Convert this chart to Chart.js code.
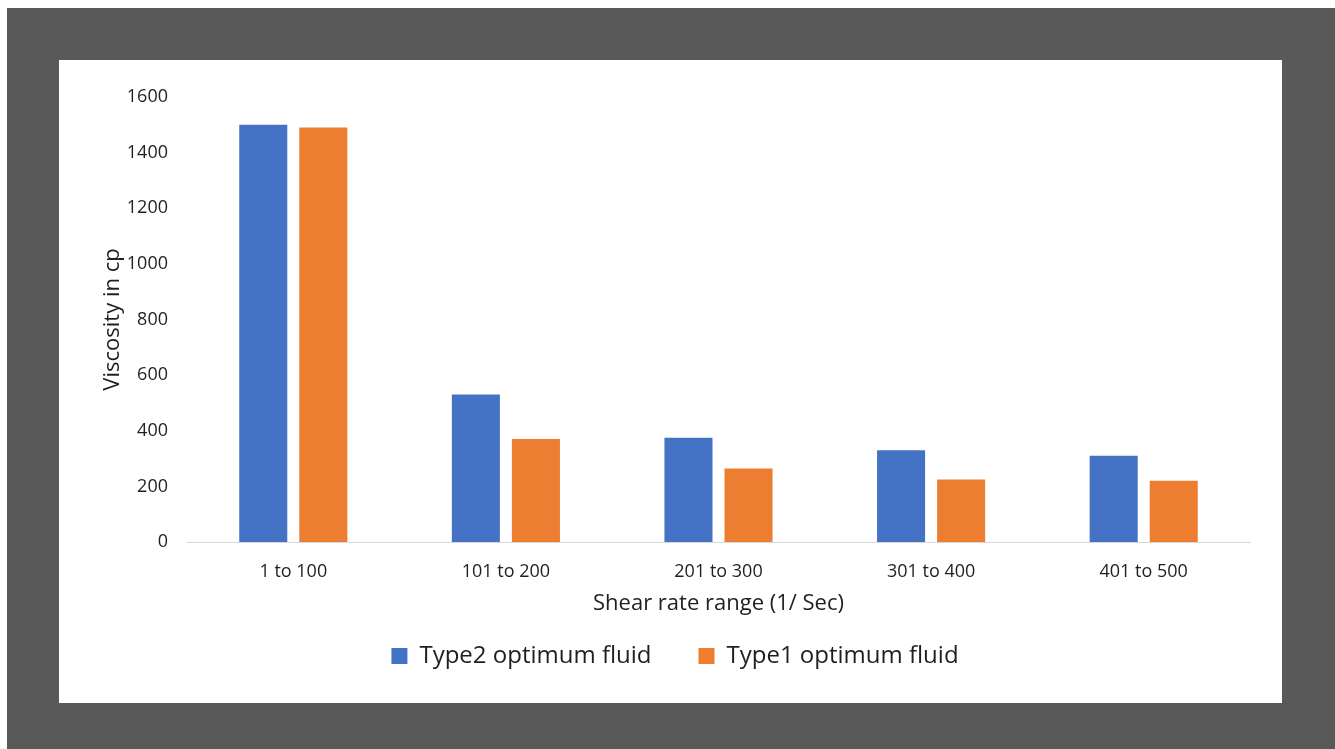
<!DOCTYPE html>
<html>
<head>
<meta charset="utf-8">
<script src="https://cdn.jsdelivr.net/npm/chart.js@4.4.1/dist/chart.umd.min.js"></script>
<style>
  html, body { margin: 0; padding: 0; background: #ffffff; }
  body { width: 1335px; height: 749px; position: relative; overflow: hidden; }
  #frame { position: absolute; left: 7px; top: 8px; right: 0; bottom: 0; background: #595959; }
  #panel { position: absolute; left: 59px; top: 60px; width: 1223px; height: 643px; background: #ffffff; }
</style>
</head>
<body>
<div id="frame"></div>
<div id="panel"><canvas id="chart" width="1223" height="643"></canvas></div>
<script>
// Shear rate ranges (1/s) and measured viscosities (cp)
const categories = ["1 to 100", "101 to 200", "201 to 300", "301 to 400", "401 to 500"];
const type2Values = [1500, 530, 375, 330, 310];
const type1Values = [1490, 370, 264, 225, 220];
const seriesNames = ["Type2 optimum fluid", "Type1 optimum fluid"];
const yTicks = [0, 200, 400, 600, 800, 1000, 1200, 1400, 1600];

const FONT = "'Open Sans', 'Noto Sans', sans-serif";
const TEXT = "#1f1f1f";

new Chart(document.getElementById("chart"), {
  type: "bar",
  data: {
    labels: categories,
    datasets: [
      { label: seriesNames[0], data: type2Values, backgroundColor: "#4472C4",
        categoryPercentage: 0.565, barPercentage: 0.8 },
      { label: seriesNames[1], data: type1Values, backgroundColor: "#ED7D31",
        categoryPercentage: 0.565, barPercentage: 0.8 }
    ]
  },
  options: {
    responsive: false,
    animation: false,
    layout: { padding: { left: 41, right: 32, top: 37, bottom: 25 } },
    plugins: {
      tooltip: { enabled: false },
      legend: {
        position: "bottom",
        labels: {
          font: { family: FONT, size: 24 },
          color: TEXT,
          boxWidth: 16,
          boxHeight: 16,
          padding: 47
        }
      }
    },
    scales: {
      x: {
        afterFit: (scale) => { scale.height = 55; },
        grid: { display: false, drawTicks: false },
        border: { color: "#d9d9d9", width: 1 },
        ticks: { font: { family: FONT, size: 18 }, color: TEXT, padding: 19 },
        title: { display: true, text: "Shear rate range (1/ Sec)",
                 font: { family: FONT, size: 22 }, color: TEXT, padding: { top: 0, bottom: -20 } }
      },
      y: {
        min: 0,
        max: 1600,
        afterFit: (scale) => { scale.width = 87; },
        afterBuildTicks: (axis) => { axis.ticks = yTicks.map(v => ({ value: v })); },
        grid: { display: false, drawTicks: false },
        border: { display: false },
        ticks: { font: { family: FONT, size: 18 }, color: TEXT, padding: 19,
                 callback: (v) => String(v) },
        title: { display: true, text: "Viscosity in cp",
                 font: { family: FONT, size: 22 }, color: TEXT, padding: { top: 0, bottom: 0 } }
      }
    }
  }
});
</script>
</body>
</html>
